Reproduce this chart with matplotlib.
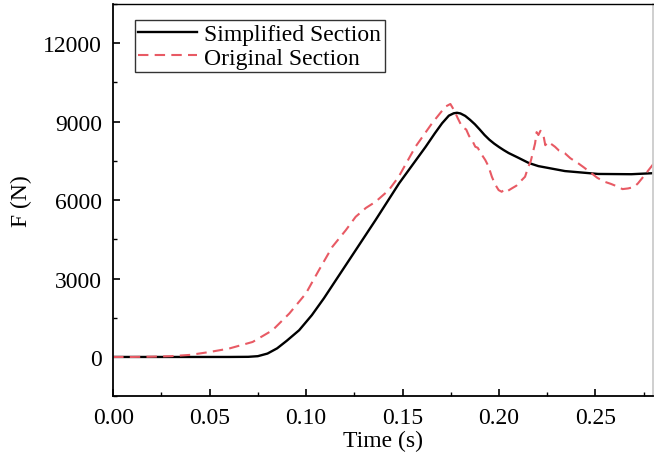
import matplotlib
matplotlib.use("Agg")
import matplotlib.pyplot as plt
from matplotlib.ticker import MultipleLocator

plt.rcParams['font.family'] = ['Liberation Serif', 'DejaVu Serif']

# Simplified Section (black, solid)
t_simple = [0.0, 0.02, 0.04, 0.06, 0.07, 0.075, 0.08, 0.085, 0.09, 0.0964, 0.103,
            0.1093, 0.116, 0.1223, 0.136, 0.1482, 0.162, 0.1667, 0.1705, 0.174,
            0.1765, 0.1782, 0.18, 0.1825, 0.185, 0.1875, 0.19, 0.1925, 0.195,
            0.1975, 0.2, 0.2025, 0.205, 0.21, 0.2154, 0.2204, 0.2342, 0.2514,
            0.2686, 0.28]
f_simple = [0, 0, 0, 0, 5, 30, 130, 330, 620, 1022, 1600,
            2250, 3000, 3703, 5235, 6640, 8041, 8550, 8939, 9230,
            9320, 9340, 9315, 9220, 9070, 8900, 8700, 8490, 8310,
            8160, 8030, 7910, 7800, 7620, 7420, 7300, 7110, 7000,
            6990, 7030]

# Original Section (red, dashed)
t_orig = [0.0, 0.01, 0.02, 0.03, 0.04, 0.05, 0.06, 0.0723, 0.0826, 0.0913,
          0.0999, 0.1065, 0.1136, 0.1206, 0.1257, 0.131, 0.136, 0.1429, 0.148,
          0.1567, 0.1653, 0.1722, 0.1748, 0.177, 0.1785, 0.1808, 0.183, 0.1845,
          0.186, 0.1877, 0.189, 0.1905, 0.1929, 0.1945, 0.1963, 0.198, 0.1998,
          0.2014, 0.203, 0.2045, 0.2066, 0.209, 0.2118, 0.2135, 0.2152, 0.2165,
          0.2187, 0.2195, 0.2204, 0.2215, 0.223, 0.224, 0.2256, 0.227, 0.229,
          0.231, 0.2342, 0.237, 0.2411, 0.244, 0.248, 0.251, 0.2548, 0.258,
          0.2617, 0.264, 0.2669, 0.27, 0.272, 0.2755, 0.28]
f_orig = [0, 0, 10, 30, 80, 190, 320, 574, 1022, 1661,
          2428, 3300, 4212, 4850, 5361, 5700, 5935, 6383, 6893,
          8041, 8939, 9573, 9676, 9400, 9150, 8807, 8700, 8450,
          8300, 8041, 8000, 7800, 7531, 7300, 6893, 6600, 6383,
          6318, 6420, 6350, 6446, 6550, 6766, 6893, 7276, 7500,
          8170, 8600, 8489, 8650, 8489, 8100, 8233, 8150, 8041,
          7900, 7788, 7600, 7405, 7250, 7023, 6850, 6700, 6620,
          6510, 6420, 6446, 6500, 6638, 6957, 7380]

fig = plt.figure(figsize=(6.54, 4.56), dpi=100)
ax = fig.add_axes([0.173, 0.129, 0.826, 0.86])

ax.plot(t_simple, f_simple, color='black', lw=1.7, label='Simplified Section')
ax.plot(t_orig, f_orig, color='#E85A64', lw=1.5, dashes=(5, 3), label='Original Section')

ax.set_xlim(0, 0.28)
ax.set_ylim(-1500, 13500)
ax.xaxis.set_major_locator(MultipleLocator(0.05))
ax.xaxis.set_minor_locator(MultipleLocator(0.025))
ax.yaxis.set_major_locator(MultipleLocator(3000))
ax.yaxis.set_minor_locator(MultipleLocator(1500))
ax.xaxis.set_major_formatter(matplotlib.ticker.FormatStrFormatter('%.2f'))
ax.tick_params(which='both', direction='in', labelsize=17, top=False, right=False)
ax.tick_params(which='major', length=5, width=1.2, pad=8)
ax.tick_params(which='minor', length=3, width=1.0)
for s in ax.spines.values():
    s.set_linewidth(1.3)
ax.spines['top'].set_linewidth(1.0)
ax.spines['right'].set_color('#cccccc')

ax.set_xlabel('Time (s)', fontsize=17, labelpad=1)
ax.set_ylabel('F (N)', fontsize=17, labelpad=8)

leg = ax.legend(loc='upper left', bbox_to_anchor=(0.04, 0.96), borderaxespad=0,
                fontsize=17, frameon=True, fancybox=False, edgecolor='black',
                handlelength=2.5, handletextpad=0.3, borderpad=0.15, labelspacing=0.1)
leg.get_frame().set_linewidth(1.0)

fig.savefig('out.png', dpi=100)
